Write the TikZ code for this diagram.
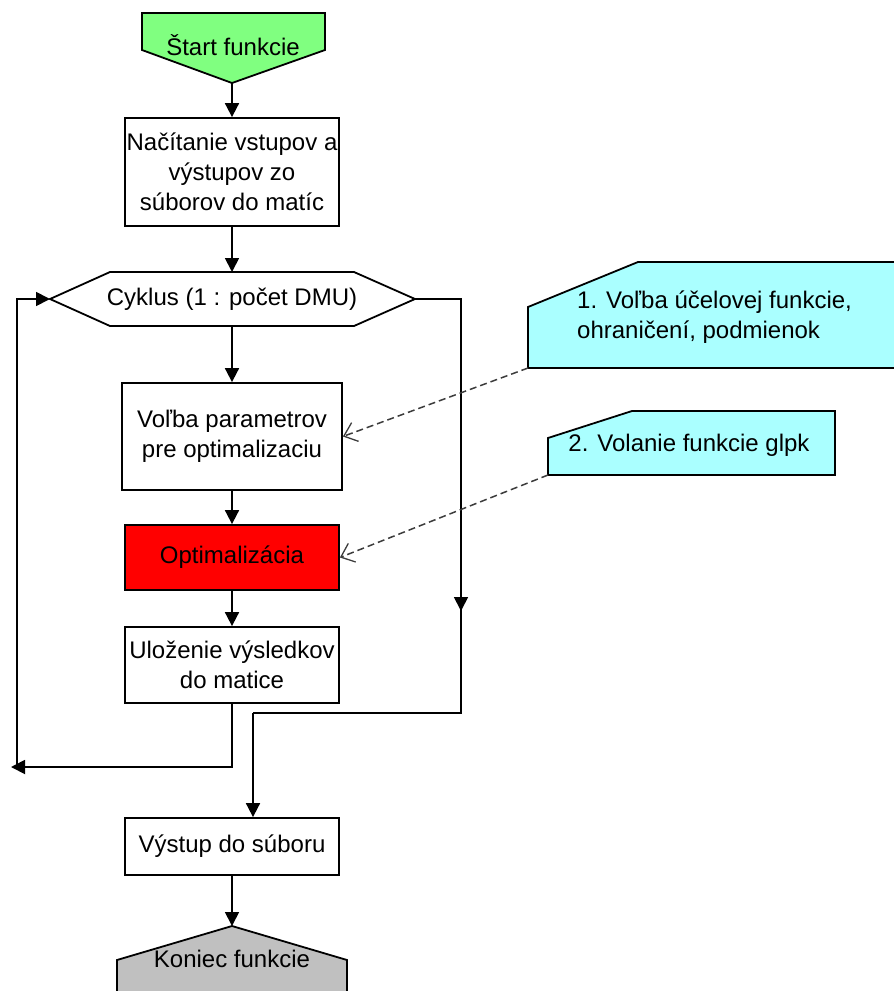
\documentclass[tikz,border=0pt]{standalone}
\usepackage{fontspec}
\setmainfont{Liberation Sans}
\usetikzlibrary{arrows.meta}
\definecolor{startgreen}{RGB}{128,255,128}
\definecolor{notecyan}{RGB}{170,255,255}
\definecolor{endgray}{RGB}{192,192,192}
\definecolor{dashgray}{RGB}{60,60,60}
\tikzset{
  shapeline/.style={draw=black,line width=1.8pt,line join=miter},
  box/.style={shapeline,rectangle,inner sep=0pt,align=center,fill=white},
  txt/.style={inner sep=0pt,align=center,font=\fontsize{24}{30}\selectfont},
  conn/.style={line width=1.8pt,-{Triangle[length=14pt,width=14pt]}},
  plainline/.style={line width=1.8pt},
  note/.style={draw=dashgray,line width=1.5pt,dash pattern=on 7pt off 4pt,-{Straight Barb[length=12pt,width=20pt,line width=1.3pt]}}
}
\begin{document}
\begin{tikzpicture}[x=1pt,y=-1pt]
\useasboundingbox (0,0) rectangle (894,991);

% start
\draw[shapeline,fill=startgreen] (142,13)--(325,13)--(325,50)--(232,83)--(142,50)--cycle;
\node[txt] (start) at (233,45) {Štart funkcie};
\coordinate (startB) at (232,83);

% boxes
\node[box,txt,draw,minimum width=214pt,minimum height=108pt] (nac) at (232,172) {Načítanie vstupov a\\výstupov zo\\súborov do matíc};

% hexagon
\draw[shapeline,fill=white] (50,299)--(110,272)--(354,272)--(415,299)--(354,326)--(110,326)--cycle;
\node[txt] (cyc) at (232,299) {Cyklus (1 : počet DMU)};
\coordinate (cycL) at (50,299);
\coordinate (cycR) at (415,299);
\coordinate (cycT) at (232,272);
\coordinate (cycB) at (232,326);

\node[box,txt,draw,minimum width=220pt,minimum height=107pt] (volba) at (232,436.5) {Voľba parametrov\\pre optimalizaciu};
\node[box,txt,draw,fill=red,minimum width=214pt,minimum height=65pt] (opt) at (232,557.5) {Optimalizácia};
\node[box,txt,draw,minimum width=214pt,minimum height=76pt] (ulo) at (232,665) {Uloženie výsledkov\\do matice};
\node[box,txt,draw,minimum width=214pt,minimum height=57pt] (vys) at (232,846.5) {Výstup do súboru};

% end
\draw[shapeline,fill=endgray] (117,1000)--(117,960)--(232,926)--(347,960)--(347,1000)--cycle;
\node[txt] (end) at (232,959) {Koniec funkcie};
\coordinate (endT) at (232,926);

% notes
\draw[shapeline,fill=notecyan] (638,262)--(900,262)--(900,368)--(528,368)--(528,307)--cycle;
\node[txt,align=left,anchor=west] (n1) at (577,317) {1. Voľba účelovej funkcie,\\ohraničení, podmienok};
\coordinate (n1BL) at (528,368);
\draw[shapeline,fill=notecyan] (632,411)--(835,411)--(835,475)--(548,475)--(548,438)--cycle;
\node[txt] (n2) at (689,445) {2. Volanie funkcie glpk};
\coordinate (n2BL) at (548,475);

% coordinates for loops
\coordinate (loopTip) at (11,767);
\coordinate (loopL) at (17,767);
\coordinate (rA) at (461,713);
\coordinate (rB) at (253,713);
\coordinate (rM0) at (461,590);
\coordinate (rM1) at (461,611);

% main connectors
\draw[conn] (startB) -- (nac.north);
\draw[conn] (nac.south) -- (cycT);
\draw[conn] (cycB) -- (volba.north);
\draw[conn] (volba.south) -- (opt.north);
\draw[conn] (opt.south) -- (ulo.north);
\draw[conn] (ulo.south) |- (loopTip);
\draw[conn] (loopL) |- (cycL);
\draw[plainline] (cycR) -| (rA) -- (rB);
\draw[conn] (rB) -- (rB |- vys.north);
\draw[conn] (rM0) -- (rM1);
\draw[conn] (vys.south) -- (endT);

% note connectors
\draw[note] (n1BL) -- (volba.east);
\draw[note] (n2BL) -- (opt.east);
\end{tikzpicture}
\end{document}
